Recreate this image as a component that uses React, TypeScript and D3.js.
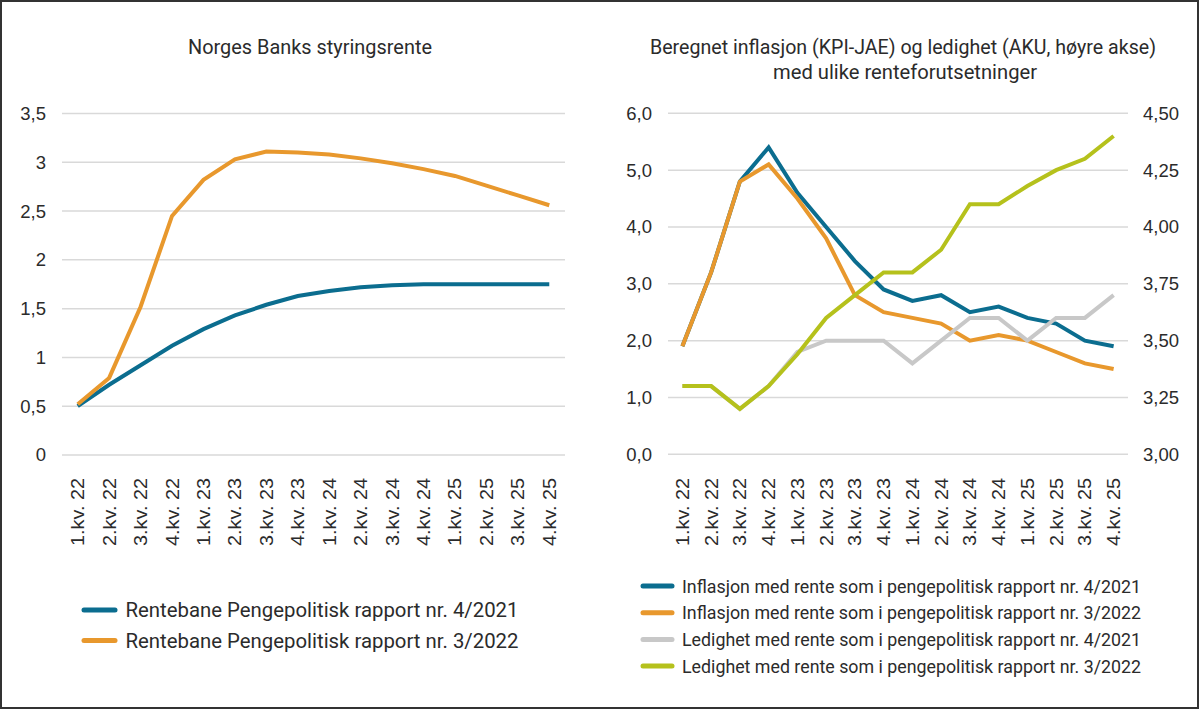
import React from "react";
import * as d3 from "d3";

const quarters = [
  "1.kv. 22", "2.kv. 22", "3.kv. 22", "4.kv. 22",
  "1.kv. 23", "2.kv. 23", "3.kv. 23", "4.kv. 23",
  "1.kv. 24", "2.kv. 24", "3.kv. 24", "4.kv. 24",
  "1.kv. 25", "2.kv. 25", "3.kv. 25", "4.kv. 25",
];

// Left chart: policy rate paths
const rentePPR421 = [0.5, 0.72, 0.92, 1.12, 1.29, 1.43, 1.54, 1.63, 1.68, 1.72, 1.74, 1.75, 1.75, 1.75, 1.75, 1.75];
const rentePPR322 = [0.52, 0.79, 1.52, 2.45, 2.82, 3.03, 3.11, 3.1, 3.08, 3.04, 2.99, 2.93, 2.86, 2.76, 2.66, 2.56];
const leftTicks = [0, 0.5, 1, 1.5, 2, 2.5, 3, 3.5];
const leftTickLabels = ["0", "0,5", "1", "1,5", "2", "2,5", "3", "3,5"];

// Right chart: inflation (left axis) and unemployment (right axis)
const inflasjon421 = [1.9, 3.2, 4.8, 5.4, 4.6, 4.0, 3.4, 2.9, 2.7, 2.8, 2.5, 2.6, 2.4, 2.3, 2.0, 1.9];
const inflasjon322 = [1.9, 3.2, 4.8, 5.1, 4.5, 3.8, 2.8, 2.5, 2.4, 2.3, 2.0, 2.1, 2.0, 1.8, 1.6, 1.5];
const ledighet421 = [3.3, 3.3, 3.2, 3.3, 3.45, 3.5, 3.5, 3.5, 3.4, 3.5, 3.6, 3.6, 3.5, 3.6, 3.6, 3.7];
const ledighet322 = [3.3, 3.3, 3.2, 3.3, 3.44, 3.6, 3.7, 3.8, 3.8, 3.9, 4.1, 4.1, 4.18, 4.25, 4.3, 4.4];
const rightLeftTicks = [0, 1, 2, 3, 4, 5, 6];
const rightLeftTickLabels = ["0,0", "1,0", "2,0", "3,0", "4,0", "5,0", "6,0"];
const rightRightTicks = [3.0, 3.25, 3.5, 3.75, 4.0, 4.25, 4.5];
const rightRightTickLabels = ["3,00", "3,25", "3,50", "3,75", "4,00", "4,25", "4,50"];

const leftTitle = "Norges Banks styringsrente";
const rightTitle1 = "Beregnet inflasjon (KPI-JAE) og ledighet (AKU, høyre akse)";
const rightTitle2 = "med ulike renteforutsetninger";
const leftLegend = [
  "Rentebane Pengepolitisk rapport nr. 4/2021",
  "Rentebane Pengepolitisk rapport nr. 3/2022",
];
const rightLegend = [
  "Inflasjon med rente som i pengepolitisk rapport nr. 4/2021",
  "Inflasjon med rente som i pengepolitisk rapport nr. 3/2022",
  "Ledighet med rente som i pengepolitisk rapport nr. 4/2021",
  "Ledighet med rente som i pengepolitisk rapport nr. 3/2022",
];

const BLUE = "#0b6d8f";
const ORANGE = "#e8982d";
const GRAY = "#c8c8c8";
const GREEN = "#b5c11c";
const GRID = "#d9d9d9";
const TEXT = "#2b2b2b";
const TITLE_FONT = "Roboto, 'Open Sans', sans-serif";
const TICK_FONT = "'Liberation Sans', Arial, sans-serif";

export default function App() {
  // Left scales
  const xL = d3.scalePoint<string>().domain(quarters).range([62, 565]).padding(0.5);
  const yL = d3.scaleLinear().domain([0, 3.5]).range([455, 113.5]);
  // Right scales
  const xR = d3.scalePoint<string>().domain(quarters).range([668, 1128]).padding(0.5);
  const yR = d3.scaleLinear().domain([0, 6]).range([454.3, 113.3]);
  const yR2 = d3.scaleLinear().domain([3, 4.5]).range([454.3, 113.3]);

  const mkLine = (x: d3.ScalePoint<string>, y: d3.ScaleLinear<number, number>) =>
    d3.line<number>().x((_, i) => x(quarters[i]) as number).y((d) => y(d));

  const lineL = mkLine(xL, yL);
  const lineR = mkLine(xR, yR);
  const lineR2 = mkLine(xR, yR2);

  const xLabels = (x: d3.ScalePoint<string>) =>
    quarters.map((q) => (
      <text
        key={q}
        transform={`translate(${x(q)},478) rotate(-90)`}
        textAnchor="end"
        dy="0.36em"
        fontSize={18}
        fontFamily={TICK_FONT}
        fill={TEXT}
        textLength={68}
        lengthAdjust="spacingAndGlyphs"
      >
        {q}
      </text>
    ));

  return (
    <svg
      width={1200}
      height={710}
      style={{ position: "absolute", left: 0, top: 0, background: "#fff" }}
    >
      <rect x={1} y={1} width={1197} height={707} fill="#fff" stroke="#333" strokeWidth={2} />

      {/* Left chart */}
      <text x={310} y={54} textAnchor="middle" fontSize={19.5} fontFamily={TITLE_FONT} fill={TEXT}
        textLength={244} lengthAdjust="spacingAndGlyphs">
        {leftTitle}
      </text>
      {leftTicks.map((t, i) => (
        <g key={"lt" + t}>
          <line x1={62} x2={565} y1={yL(t)} y2={yL(t)} stroke={GRID} strokeWidth={1.5} />
          <text x={46} y={yL(t)} dy="0.35em" textAnchor="end" fontSize={18.5} fontFamily={TICK_FONT} fill={TEXT}>
            {leftTickLabels[i]}
          </text>
        </g>
      ))}
      {xLabels(xL)}
      <path d={lineL(rentePPR421) as string} fill="none" stroke={BLUE} strokeWidth={4} />
      <path d={lineL(rentePPR322) as string} fill="none" stroke={ORANGE} strokeWidth={4} />
      {leftLegend.map((s, i) => (
        <g key={s}>
          <line x1={84} x2={115} y1={610 + i * 30.5} y2={610 + i * 30.5}
            stroke={i === 0 ? BLUE : ORANGE} strokeWidth={5} strokeLinecap="round" />
          <text x={125.5} y={610 + i * 30.5} dy="0.35em" fontSize={20} fontFamily={TITLE_FONT} fill={TEXT}
            textLength={393} lengthAdjust="spacingAndGlyphs">
            {s}
          </text>
        </g>
      ))}

      {/* Right chart */}
      <text x={903} y={54} textAnchor="middle" fontSize={19.5} fontFamily={TITLE_FONT} fill={TEXT}
        textLength={506} lengthAdjust="spacingAndGlyphs">
        {rightTitle1}
      </text>
      <text x={905} y={79} textAnchor="middle" fontSize={19.5} fontFamily={TITLE_FONT} fill={TEXT}
        textLength={264} lengthAdjust="spacingAndGlyphs">
        {rightTitle2}
      </text>
      {rightLeftTicks.map((t, i) => (
        <g key={"rt" + t}>
          <line x1={668} x2={1128} y1={yR(t)} y2={yR(t)} stroke={GRID} strokeWidth={1.5} />
          <text x={652} y={yR(t)} dy="0.35em" textAnchor="end" fontSize={18.5} fontFamily={TICK_FONT} fill={TEXT}>
            {rightLeftTickLabels[i]}
          </text>
        </g>
      ))}
      {rightRightTicks.map((t, i) => (
        <text key={"rr" + t} x={1143} y={yR2(t)} dy="0.35em" textAnchor="start" fontSize={18.5}
          fontFamily={TICK_FONT} fill={TEXT}>
          {rightRightTickLabels[i]}
        </text>
      ))}
      {xLabels(xR)}
      <path d={lineR(inflasjon421) as string} fill="none" stroke={BLUE} strokeWidth={4} />
      <path d={lineR(inflasjon322) as string} fill="none" stroke={ORANGE} strokeWidth={4} />
      <path d={lineR2(ledighet421) as string} fill="none" stroke={GRAY} strokeWidth={4} />
      <path d={lineR2(ledighet322) as string} fill="none" stroke={GREEN} strokeWidth={4} />
      {rightLegend.map((s, i) => {
        const y = 586 + i * 26.7;
        const c = [BLUE, ORANGE, GRAY, GREEN][i];
        return (
          <g key={s}>
            <line x1={643} x2={672} y1={y} y2={y} stroke={c} strokeWidth={5} strokeLinecap="round" />
            <text x={682} y={y} dy="0.35em" fontSize={19} fontFamily={TITLE_FONT} fill={TEXT}
              textLength={459} lengthAdjust="spacingAndGlyphs">
              {s}
            </text>
          </g>
        );
      })}
    </svg>
  );
}
